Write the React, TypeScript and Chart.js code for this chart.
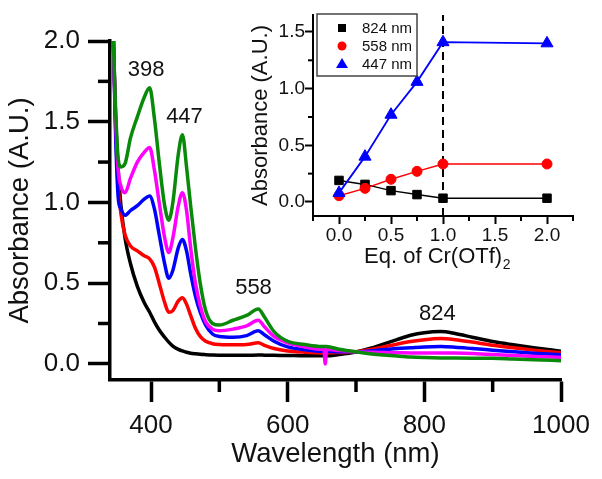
import React, { useEffect, useRef } from 'react';
import { Chart, registerables } from 'chart.js';

Chart.register(...registerables);

const FONT = '"Liberation Sans", Arial, sans-serif';

// ---------- Main spectra ----------
const wavelengths = [345, 348, 352, 356, 362, 370, 380, 390, 398, 405, 412, 420, 426, 432, 440, 446, 452, 458, 465, 472, 480, 490, 500, 520, 540, 557, 566, 580, 600, 625, 650, 653, 655, 657, 675, 700, 720, 740, 760, 780, 800, 824, 845, 870, 900, 930, 960, 1000];

const abs0eq = [2.0, 1.55, 1.2, 0.98, 0.78, 0.62, 0.48, 0.38, 0.32, 0.26, 0.21, 0.165, 0.135, 0.11, 0.09, 0.08, 0.072, 0.066, 0.062, 0.059, 0.057, 0.055, 0.054, 0.053, 0.053, 0.055, 0.054, 0.053, 0.052, 0.05, 0.05, 0.05, 0.05, 0.05, 0.058, 0.074, 0.095, 0.122, 0.15, 0.177, 0.193, 0.2, 0.188, 0.165, 0.138, 0.118, 0.1, 0.078];

const abs025eq = [2.0, 1.5, 1.1, 0.93, 0.8, 0.73, 0.7, 0.67, 0.65, 0.6, 0.5, 0.38, 0.32, 0.33, 0.39, 0.41, 0.37, 0.3, 0.22, 0.17, 0.14, 0.125, 0.12, 0.118, 0.12, 0.13, 0.115, 0.095, 0.08, 0.072, 0.068, 0.068, 0.068, 0.068, 0.07, 0.075, 0.088, 0.105, 0.122, 0.138, 0.15, 0.157, 0.15, 0.135, 0.115, 0.1, 0.085, 0.068];

const abs05eq = [2.0, 1.45, 1.03, 0.96, 0.92, 0.95, 0.98, 1.02, 1.04, 0.96, 0.8, 0.62, 0.53, 0.58, 0.72, 0.77, 0.7, 0.56, 0.42, 0.32, 0.24, 0.185, 0.17, 0.165, 0.175, 0.205, 0.18, 0.14, 0.105, 0.088, 0.078, 0.078, 0.04, 0.078, 0.075, 0.075, 0.08, 0.087, 0.095, 0.1, 0.105, 0.107, 0.103, 0.095, 0.085, 0.075, 0.066, 0.057];

const abs075eq = [2.0, 1.55, 1.2, 1.1, 1.06, 1.15, 1.25, 1.31, 1.34, 1.2, 1.0, 0.78, 0.69, 0.78, 0.98, 1.06, 0.95, 0.72, 0.5, 0.36, 0.26, 0.215, 0.205, 0.215, 0.235, 0.27, 0.23, 0.17, 0.13, 0.105, 0.09, 0.09, 0.0, 0.09, 0.082, 0.075, 0.072, 0.07, 0.069, 0.068, 0.068, 0.068, 0.067, 0.064, 0.058, 0.052, 0.046, 0.04];

const abs1eq = [2.0, 1.6, 1.27, 1.22, 1.24, 1.4, 1.53, 1.65, 1.71, 1.52, 1.25, 0.98, 0.89, 1.0, 1.3, 1.42, 1.22, 0.98, 0.72, 0.5, 0.33, 0.25, 0.24, 0.27, 0.3, 0.34, 0.29, 0.2, 0.14, 0.12, 0.108, 0.108, 0.108, 0.108, 0.09, 0.075, 0.063, 0.055, 0.048, 0.042, 0.039, 0.037, 0.036, 0.035, 0.034, 0.03, 0.026, 0.02];

const xTicksMain = [400, 600, 800, 1000];
const xMinorMain = [500, 700, 900];
const yTicksMain = [0, 0.5, 1.0, 1.5, 2.0];
const yMinorMain = [0.25, 0.75, 1.25, 1.75];

const peakLabels = ['398', '447', '558', '824'];
const peakLabelWl = [393, 449, 550, 819];
const peakLabelAbs = [1.82, 1.53, 0.47, 0.31];

// ---------- Inset titration ----------
const eqValues = [0, 0.25, 0.5, 0.75, 1.0, 2.0];
const abs824 = [0.19, 0.155, 0.1, 0.065, 0.033, 0.033];
const abs558 = [0.055, 0.12, 0.2, 0.27, 0.335, 0.335];
const abs447 = [0.08, 0.4, 0.77, 1.06, 1.41, 1.4];
const legendLabels = ['824 nm', '558 nm', '447 nm'];
const insetXTicks = [0, 0.5, 1.0, 1.5, 2.0];
const insetXMinor = [-0.25, 0.25, 0.75, 1.25, 1.75, 2.25];
const insetYTicks = [0, 0.5, 1.0, 1.5];
const insetYMinor = [0.25, 0.75, 1.25];
const equivalenceEq = 1.0;

const INSET_YMIN = -0.124;
const INSET_YMAX = 1.65;

function minorTicksPlugin(id: string, xMinor: number[], yMinor: number[], len: number, width: number) {
  return {
    id,
    afterDraw(chart: any) {
      const ctx = chart.ctx;
      const { left, bottom } = chart.chartArea;
      const xs = chart.scales.x;
      const ys = chart.scales.y;
      ctx.save();
      ctx.strokeStyle = '#000';
      ctx.lineWidth = width;
      xMinor.forEach((v) => {
        const p = xs.getPixelForValue(v);
        ctx.beginPath();
        ctx.moveTo(p, bottom);
        ctx.lineTo(p, bottom + len);
        ctx.stroke();
      });
      yMinor.forEach((v) => {
        const p = ys.getPixelForValue(v);
        ctx.beginPath();
        ctx.moveTo(left, p);
        ctx.lineTo(left - len, p);
        ctx.stroke();
      });
      ctx.restore();
    },
  };
}

const peakLabelPlugin = {
  id: 'peakLabels',
  afterDatasetsDraw(chart: any) {
    const ctx = chart.ctx;
    const xs = chart.scales.x;
    const ys = chart.scales.y;
    ctx.save();
    ctx.fillStyle = '#111';
    ctx.font = `22px ${FONT}`;
    ctx.textAlign = 'center';
    ctx.textBaseline = 'middle';
    peakLabels.forEach((t, i) => {
      ctx.fillText(t, xs.getPixelForValue(peakLabelWl[i]), ys.getPixelForValue(peakLabelAbs[i]));
    });
    ctx.restore();
  },
};

const insetLegendPlugin = {
  id: 'insetLegend',
  afterDraw(chart: any) {
    const ctx = chart.ctx;
    ctx.save();
    ctx.fillStyle = '#fff';
    ctx.fillRect(317, 14, 100, 62);
    ctx.strokeStyle = '#444';
    ctx.lineWidth = 1.5;
    ctx.strokeRect(317, 14, 100, 62);
    const colors = ['#000000', '#ff0000', '#0000ff'];
    const rows = [28, 46, 64];
    const mx = 342;
    legendLabels.forEach((label, i) => {
      const y = rows[i];
      ctx.fillStyle = colors[i];
      ctx.beginPath();
      if (i === 0) {
        ctx.rect(mx - 4, y - 4, 8, 8);
      } else if (i === 1) {
        ctx.arc(mx, y, 4.5, 0, Math.PI * 2);
      } else {
        ctx.moveTo(mx, y - 6);
        ctx.lineTo(mx + 6, y + 4);
        ctx.lineTo(mx - 6, y + 4);
        ctx.closePath();
      }
      ctx.fill();
      ctx.fillStyle = '#111';
      ctx.font = `15px ${FONT}`;
      ctx.textAlign = 'left';
      ctx.textBaseline = 'middle';
      ctx.fillText(label, 362, y + 1);
    });
    ctx.restore();
  },
};

const insetXTitlePlugin = {
  id: 'insetXTitle',
  afterDraw(chart: any) {
    const ctx = chart.ctx;
    ctx.save();
    ctx.fillStyle = '#111';
    ctx.textBaseline = 'middle';
    ctx.textAlign = 'left';
    const main = 'Eq. of Cr(OTf)';
    ctx.font = `22px ${FONT}`;
    const w1 = ctx.measureText(main).width;
    ctx.font = `14px ${FONT}`;
    const w2 = ctx.measureText('2').width;
    const cx = (chart.chartArea.left + chart.chartArea.right) / 2 - 6;
    const x0 = cx - (w1 + w2) / 2;
    const y = 257;
    ctx.font = `22px ${FONT}`;
    ctx.fillText(main, x0, y);
    ctx.font = `14px ${FONT}`;
    ctx.fillText('2', x0 + w1 + 0.5, y + 8);
    ctx.restore();
  },
};

function pts(xs: number[], ys: number[]) {
  return xs.map((x, i) => ({ x, y: ys[i] }));
}

export default function App() {
  const mainRef = useRef<HTMLCanvasElement>(null);
  const insetRef = useRef<HTMLCanvasElement>(null);

  useEffect(() => {
    const spectra = [
      { label: '1.0 eq', data: abs1eq, color: '#0a8a0a' },
      { label: '0.75 eq', data: abs075eq, color: '#ff00ff' },
      { label: '0.5 eq', data: abs05eq, color: '#0000ff' },
      { label: '0.25 eq', data: abs025eq, color: '#ff0000' },
      { label: '0 eq', data: abs0eq, color: '#000000' },
    ];

    const main = new Chart(mainRef.current as HTMLCanvasElement, {
      type: 'line',
      data: {
        datasets: spectra.map((s) => ({
          label: s.label,
          data: pts(wavelengths, s.data),
          borderColor: s.color,
          backgroundColor: s.color,
          borderWidth: 3.5,
          pointRadius: 0,
          cubicInterpolationMode: 'monotone',
          fill: false,
        })),
      },
      options: {
        responsive: false,
        animation: false,
        layout: { padding: { left: 0, top: 41, right: 41, bottom: 0 } },
        plugins: { legend: { display: false }, tooltip: { enabled: false } },
        scales: {
          x: {
            type: 'linear',
            min: 340,
            max: 1000,
            afterBuildTicks: (s: any) => {
              s.ticks = xTicksMain.map((v) => ({ value: v }));
            },
            afterFit: (s: any) => {
              s.height = 99;
            },
            grid: { drawOnChartArea: false, drawTicks: true, tickLength: 22, tickWidth: 3.5, tickColor: '#000' },
            border: { display: true, color: '#000', width: 3.5 },
            ticks: {
              color: '#111',
              font: { family: FONT, size: 26 },
              padding: 8,
              autoSkip: false,
              maxRotation: 0,
              callback: (v: any) => String(v),
            },
            title: {
              display: true,
              text: 'Wavelength (nm)',
              color: '#111',
              font: { family: FONT, size: 27.5 },
              padding: { top: 0, bottom: 8 },
            },
          },
          y: {
            type: 'linear',
            min: -0.1,
            max: 2.0,
            afterBuildTicks: (s: any) => {
              s.ticks = yTicksMain.map((v) => ({ value: v }));
            },
            afterFit: (s: any) => {
              s.width = 110;
            },
            grid: { drawOnChartArea: false, drawTicks: true, tickLength: 22, tickWidth: 3.5, tickColor: '#000' },
            border: { display: true, color: '#000', width: 3.5 },
            ticks: {
              color: '#111',
              font: { family: FONT, size: 26 },
              padding: 8,
              callback: (v: any) => Number(v).toFixed(1),
            },
            title: {
              display: true,
              text: 'Absorbance (A.U.)',
              color: '#111',
              font: { family: FONT, size: 27.5 },
              padding: { top: 4, bottom: 0 },
            },
          },
        },
      } as any,
      plugins: [minorTicksPlugin('mainMinor', xMinorMain, yMinorMain, 12, 3.5), peakLabelPlugin],
    });

    const inset = new Chart(insetRef.current as HTMLCanvasElement, {
      type: 'line',
      data: {
        datasets: [
          {
            label: legendLabels[2],
            data: pts(eqValues, abs447),
            borderColor: '#0000ff',
            backgroundColor: '#0000ff',
            borderWidth: 1.8,
            pointStyle: 'triangle',
            pointRadius: 7,
            pointBorderWidth: 1,
            order: 0,
          },
          {
            label: legendLabels[1],
            data: pts(eqValues, abs558),
            borderColor: '#ff0000',
            backgroundColor: '#ff0000',
            borderWidth: 1.5,
            pointStyle: 'circle',
            pointRadius: 5,
            pointBorderWidth: 1,
            order: 1,
          },
          {
            label: legendLabels[0],
            data: pts(eqValues, abs824),
            borderColor: '#000000',
            backgroundColor: '#000000',
            borderWidth: 1.5,
            pointStyle: 'rect',
            pointRadius: 6,
            pointBorderWidth: 1,
            order: 2,
          },
          {
            label: 'equivalence',
            data: [
              { x: equivalenceEq, y: INSET_YMIN },
              { x: equivalenceEq, y: INSET_YMAX },
            ],
            borderColor: '#000000',
            borderWidth: 2,
            borderDash: [8, 5],
            pointRadius: 0,
            order: 3,
          },
        ],
      },
      options: {
        responsive: false,
        animation: false,
        layout: { padding: { left: 248, top: 15, right: 29, bottom: 203 } },
        plugins: { legend: { display: false }, tooltip: { enabled: false } },
        elements: { line: { tension: 0 } },
        scales: {
          x: {
            type: 'linear',
            min: -0.25,
            max: 2.25,
            afterBuildTicks: (s: any) => {
              s.ticks = insetXTicks.map((v) => ({ value: v }));
            },
            afterFit: (s: any) => {
              s.height = 60;
            },
            grid: { drawOnChartArea: false, drawTicks: true, tickLength: 8, tickWidth: 2, tickColor: '#000' },
            border: { display: true, color: '#000', width: 2 },
            ticks: {
              color: '#111',
              font: { family: FONT, size: 19 },
              padding: 0,
              autoSkip: false,
              maxRotation: 0,
              callback: (v: any) => Number(v).toFixed(1),
            },
          },
          y: {
            type: 'linear',
            min: INSET_YMIN,
            max: INSET_YMAX,
            afterBuildTicks: (s: any) => {
              s.ticks = insetYTicks.map((v) => ({ value: v }));
            },
            afterFit: (s: any) => {
              s.width = 65;
            },
            grid: { drawOnChartArea: false, drawTicks: true, tickLength: 8, tickWidth: 2, tickColor: '#000' },
            border: { display: true, color: '#000', width: 2 },
            ticks: {
              color: '#111',
              font: { family: FONT, size: 19 },
              padding: 0,
              callback: (v: any) => Number(v).toFixed(1),
            },
            title: {
              display: true,
              text: 'Absorbance (A.U.)',
              color: '#111',
              font: { family: FONT, size: 22 },
              padding: { top: 0, bottom: 0 },
            },
          },
        },
      } as any,
      plugins: [minorTicksPlugin('insetMinor', insetXMinor, insetYMinor, 5, 2), insetLegendPlugin, insetXTitlePlugin],
    });

    return () => {
      main.destroy();
      inset.destroy();
    };
  }, []);

  return (
    <div style={{ position: 'fixed', left: 0, top: 0, width: 602, height: 479, background: '#fff' }}>
      <canvas ref={mainRef} width={602} height={479} style={{ position: 'absolute', left: 0, top: 0 }} />
      <canvas ref={insetRef} width={602} height={479} style={{ position: 'absolute', left: 0, top: 0 }} />
    </div>
  );
}
